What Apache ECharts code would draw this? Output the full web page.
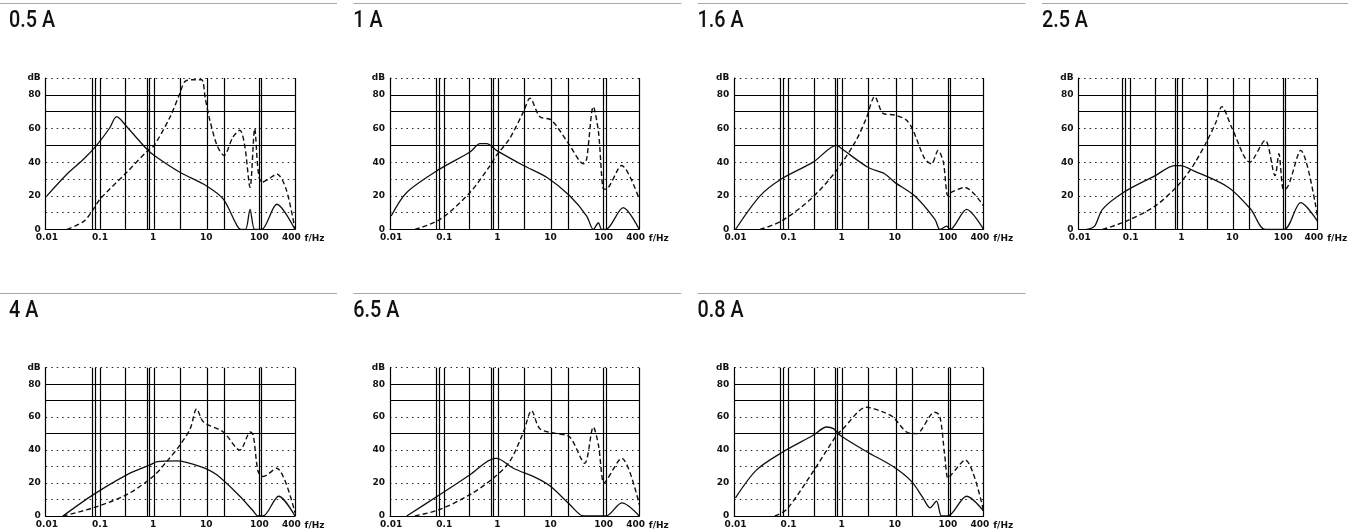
<!DOCTYPE html>
<html><head><meta charset="utf-8">
<script src="https://cdn.jsdelivr.net/npm/echarts@6/dist/echarts.min.js"></script>
<style>html,body{margin:0;padding:0;background:#fff}#c{width:1348px;height:530px}</style>
</head><body><div id="c"></div>
<script>
// ---- data ----
const titles = ['0.5 A', '1 A', '1.6 A', '2.5 A', '4 A', '6.5 A', '0.8 A'];
const xTickValues = [0.01, 0.1, 1, 10, 100, 400];
const xTickLabels = ['0.01', '0.1', '1', '10', '100', '400'];
const xAxisName = 'f/Hz';
const yTopLabel = 'dB';
const yTickValues = [0, 20, 40, 60, 80];
const gridLinesX = [0.072, 0.08, 0.1, 0.3, 0.76, 0.84, 1.04, 3.2, 10.5, 21.5, 100, 111];
const gridLinesY = [50, 70, 80];

const p1SolidF = [0.01, 0.024, 0.05, 0.086, 0.15, 0.206, 0.32, 0.75, 1.05, 3.2, 10, 21, 37, 45, 55, 67, 82, 110, 214, 470];
const p1SolidDb = [20, 33, 42, 50, 60, 67, 61, 48, 44, 34, 26, 18, 3, 0, 0, 12, 0, 0, 15, 0];
const p1DashF = [0.024, 0.05, 0.075, 0.1, 0.32, 0.8, 1.05, 2.1, 3.2, 4, 6, 8.2, 9.6, 11.7, 16, 21.6, 32, 43, 53, 67, 82, 95, 110, 150, 214, 320, 470];
const p1DashDb = [0, 5, 12, 18, 34, 47, 50, 67, 81, 88, 89, 89, 78, 65, 50, 44, 55, 59, 50, 25, 60, 35, 28, 30, 33, 24, 0];

const p2SolidF = [0.01, 0.0196, 0.083, 0.305, 0.47, 0.63, 0.96, 3.1, 8.5, 23, 48, 64, 80, 92, 110, 234, 470];
const p2SolidDb = [8, 22, 36, 46, 51, 51, 47, 38, 31, 20, 8, 0, 4, 0, 0, 13, 0];
const p2DashF = [0.028, 0.083, 0.305, 0.73, 0.96, 1.7, 3.1, 4.1, 6.3, 10.4, 23, 42, 48, 64, 80, 100, 110, 218, 470];
const p2DashDb = [0, 6, 22, 38, 44, 54, 70, 78, 67, 65, 50, 39, 42, 73, 58, 24, 24, 38, 18];

const p3SolidF = [0.01, 0.029, 0.073, 0.29, 0.8, 1.0, 3.1, 6.5, 10, 23.6, 57, 71, 95, 110, 225, 470];
const p3SolidDb = [0, 20, 30, 40, 50, 48, 37, 33, 28, 20, 6, 0, 2, 0, 12, 0];
const p3DashF = [0.029, 0.073, 0.26, 0.75, 1.8, 2.9, 4.2, 6, 10, 16.5, 22, 36.6, 49, 65.5, 82, 100, 115, 210, 470];
const p3DashDb = [0, 5, 18, 34, 52, 66, 79, 69, 68, 65, 59, 42, 39, 47, 40, 20, 22, 25, 14];

const p4SolidF = [0.0136, 0.0196, 0.028, 0.072, 0.305, 0.73, 0.96, 1.7, 8.4, 23, 44, 104, 220, 470];
const p4SolidDb = [0, 2, 12, 22, 32, 38, 38, 35, 25, 12, 0, 0, 16, 5];
const p4DashF = [0.028, 0.083, 0.305, 0.84, 1.7, 3.1, 4.8, 6.2, 9.9, 22, 44, 69, 82, 100, 110, 220, 470];
const p4DashDb = [0, 5, 14, 26, 38, 52, 64, 73, 60, 40, 53, 32, 45, 24, 24, 47, 8];

const p5SolidF = [0.02, 0.075, 0.32, 0.88, 1.2, 2.8, 7.8, 15.8, 43, 77, 95, 118, 232, 470];
const p5SolidDb = [0, 13, 25, 31, 33, 33.5, 30, 25, 12, 3, 0, 0, 12, 0];
const p5DashF = [0.02, 0.075, 0.32, 1.0, 1.8, 3.2, 5, 6.6, 8.9, 21, 43, 68, 77, 95, 118, 212, 470];
const p5DashDb = [0, 5, 13, 24, 33, 43, 53, 65, 57, 51, 40, 51, 49, 27, 24, 29, 2];

const p6SolidF = [0.0196, 0.083, 0.305, 0.9, 0.96, 2.0, 5.5, 10, 23, 42, 110, 220, 470];
const p6SolidDb = [0, 13, 25, 35, 35, 29, 23, 18, 7, 0, 0, 8, 0];
const p6DashF = [0.028, 0.083, 0.305, 0.84, 1.7, 3.1, 4.4, 6.3, 13, 23, 44, 64, 80, 100, 110, 220, 470];
const p6DashDb = [0, 4, 13, 23, 33, 51, 64, 53, 50, 48, 32, 54, 43, 20, 21, 35, 7];

const p7SolidF = [0.01, 0.025, 0.079, 0.29, 0.52, 0.7, 0.93, 2.96, 9.3, 20.6, 34, 46, 61, 76, 100, 224, 470];
const p7SolidDb = [11, 28, 39, 49, 54, 53, 49, 39, 30, 21, 11, 5, 9, 0, 0, 12, 3];
const p7DashF = [0.055, 0.092, 0.29, 0.8, 1.06, 2.96, 6.1, 9.3, 16.6, 25.6, 56, 70, 87, 100, 115, 212, 470];
const p7DashDb = [0, 4, 27, 49, 53, 66, 63, 60, 51, 50, 63, 61, 37, 23, 25, 34, 3];

const panels = [
  [p1SolidF, p1SolidDb, p1DashF, p1DashDb],
  [p2SolidF, p2SolidDb, p2DashF, p2DashDb],
  [p3SolidF, p3SolidDb, p3DashF, p3DashDb],
  [p4SolidF, p4SolidDb, p4DashF, p4DashDb],
  [p5SolidF, p5SolidDb, p5DashF, p5DashDb],
  [p6SolidF, p6SolidDb, p6DashF, p6DashDb],
  [p7SolidF, p7SolidDb, p7DashF, p7DashDb]
];

// ---- layout ----
const colStep = 344.3, rowStep = 289.7;
const plotLeft = 45.7, plotTop = 78, plotW = 249.3, plotH = 151.5;
const X_MIN = 0.0095, X_MAX = 470;
const titleFont = "'Roboto', 'Liberation Sans', sans-serif";
const tickFont = "'DejaVu Sans', 'Liberation Sans', sans-serif";

function zip(a, b) { return a.map((v, i) => [v, b[i]]); }
function xLabel(v) {
  for (let i = 0; i < xTickValues.length; i++) {
    if (Math.abs(Math.log10(v) - Math.log10(xTickValues[i])) < 0.01) return xTickLabels[i];
  }
  return '';
}

const grids = [], xAxes = [], yAxes = [], series = [], graphics = [];
panels.forEach((p, i) => {
  const row = i < 4 ? 0 : 1, col = i % 4;
  const gx = plotLeft + col * colStep, gy = plotTop + row * rowStep;
  grids.push({ left: gx, top: gy, width: plotW, height: plotH, containLabel: false });
  xAxes.push({
    gridIndex: i, type: 'log', logBase: 10, min: X_MIN, max: X_MAX,
    axisLine: { show: true, lineStyle: { color: '#000', width: 1.2 } },
    axisTick: { show: false }, splitLine: { show: false }, minorTick: { show: false },
    axisLabel: { customValues: xTickValues, formatter: xLabel, color: '#111', fontSize: 9, fontWeight: 'bold', fontFamily: tickFont, margin: 4, showMinLabel: true, showMaxLabel: true, hideOverlap: false },
    name: xAxisName, nameLocation: 'end', nameGap: 4,
    nameTextStyle: { color: '#111', fontSize: 9, fontWeight: 'bold', fontFamily: tickFont, verticalAlign: 'top', padding: [5, 0, 0, 0] }
  });
  yAxes.push({
    gridIndex: i, type: 'value', min: 0, max: 90, interval: 10,
    axisLine: { show: true, lineStyle: { color: '#000', width: 1.2 } },
    axisTick: { show: false },
    splitLine: { show: true, lineStyle: { color: '#222', type: [1.5, 4], width: 1 } },
    axisLabel: {
      formatter: v => v === 90 ? yTopLabel : (yTickValues.indexOf(v) >= 0 ? String(v) : ''),
      color: '#111', fontSize: 9, fontWeight: 'bold', fontFamily: tickFont, margin: 5
    }
  });
  const gridMarks = gridLinesX.map(v => ({ xAxis: v })).concat([{ xAxis: X_MAX }]).concat(gridLinesY.map(v => ({ yAxis: v })));
  series.push({
    type: 'line', xAxisIndex: i, yAxisIndex: i, data: zip(p[0], p[1]),
    showSymbol: false, smooth: 0.3, animation: false,
    lineStyle: { color: '#111', width: 1.3, type: 'solid' },
    markLine: { silent: true, symbol: 'none', animation: false, label: { show: false },
      lineStyle: { color: '#000', type: 'solid', width: 1.2 }, data: gridMarks }
  });
  series.push({
    type: 'line', xAxisIndex: i, yAxisIndex: i, data: zip(p[2], p[3]),
    showSymbol: false, smooth: 0.3, animation: false,
    lineStyle: { color: '#111', width: 1.4, type: [5, 3] }
  });
  const sx = col === 0 ? 0 : col * colStep + 9;
  const ex = col * colStep + 337;
  graphics.push({ type: 'line', silent: true, shape: { x1: sx, y1: 3.5 + row * 290, x2: Math.min(ex, 1348), y2: 3.5 + row * 290 },
    style: { stroke: '#a8a8a8', lineWidth: 1.2 } });
  graphics.push({ type: 'text', silent: true, x: col * colStep + 9, y: 10 + row * 290, scaleX: 0.86,
    style: { text: titles[i], font: '500 23px ' + titleFont, fill: '#111', textVerticalAlign: 'top' } });
});

const chart = echarts.init(document.getElementById('c'), null, { renderer: 'canvas' });
chart.setOption({
  animation: false,
  backgroundColor: '#fff',
  grid: grids,
  xAxis: xAxes,
  yAxis: yAxes,
  series: series,
  graphic: graphics
});
</script>
</body></html>
